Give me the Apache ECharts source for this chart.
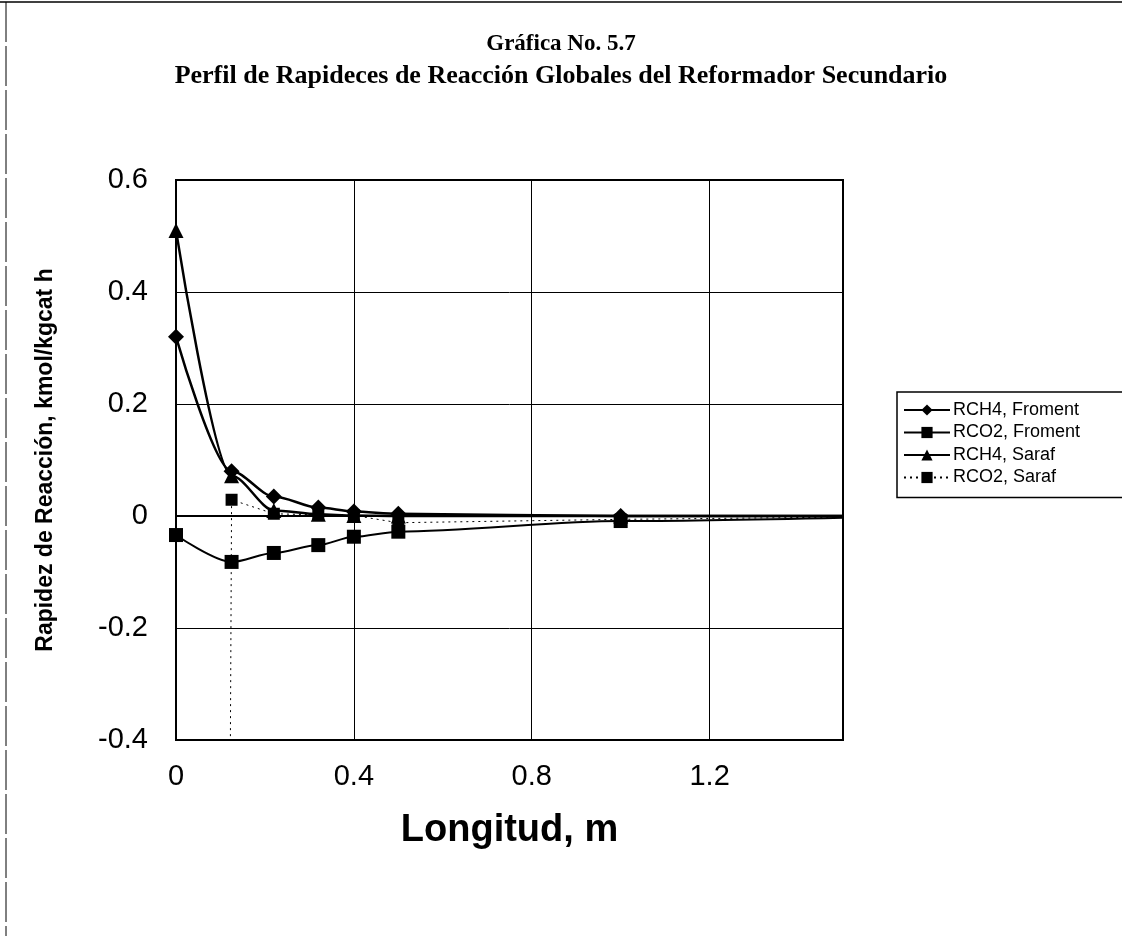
<!DOCTYPE html>
<html>
<head>
<meta charset="utf-8">
<script src="https://cdn.jsdelivr.net/npm/echarts@6/dist/echarts.min.js"></script>
<style>
  html, body { margin: 0; padding: 0; background: #fff; }
  #chart { width: 1122px; height: 936px; }
</style>
</head>
<body>
<div id="chart"></div>
<script>
// Longitud del reactor (m)
const longitud = [0, 0.125, 0.22, 0.32, 0.4, 0.5, 1.0, 1.5];

// Rapideces de reacción (kmol/kgcat h)
const rch4Froment = [0.32, 0.08, 0.035, 0.015, 0.008, 0.004, 0.0, 0.0];
const rco2Froment = [-0.034, -0.082, -0.066, -0.052, -0.037, -0.028, -0.009, -0.003];
const rch4Saraf   = [0.51, 0.072, 0.01, 0.003, 0.001, 0.0, 0.0, 0.0];
const rco2Saraf   = [-20, 0.029, 0.004, 0.002, 0.001, -0.012, -0.006, -0.002];

const seriesNames = ['RCH4, Froment', 'RCO2, Froment', 'RCH4, Saraf', 'RCO2, Saraf'];
const yTicks = [-0.4, -0.2, 0, 0.2, 0.4, 0.6];
const xTicks = [0, 0.4, 0.8, 1.2];

// The last point (x = 1.5) only carries the line to the plot edge, without a marker
function pairs(ys) {
  return longitud.map((x, i) => {
    const p = { value: [x, ys[i]] };
    if (x === 1.5) p.symbol = 'none';
    return p;
  });
}

const chart = echarts.init(document.getElementById('chart'));

const black = '#000';
const option = {
  backgroundColor: '#fff',
  animation: false,
  title: {
    text: 'Gráfica No. 5.7',
    subtext: 'Perfil de Rapideces de Reacción Globales del Reformador Secundario',
    left: 'center',
    top: 28,
    itemGap: 7,
    textStyle: { fontFamily: 'Liberation Serif', fontWeight: 'bold', fontSize: 23, color: black },
    subtextStyle: { fontFamily: 'Liberation Serif', fontWeight: 'bold', fontSize: 26, color: black }
  },
  legend: {
    orient: 'vertical',
    left: 897,
    top: 392,
    data: seriesNames,
    itemWidth: 46,
    itemHeight: 14,
    itemGap: 4.5,
    padding: [9, 60, 11, 6],
    borderColor: black,
    borderWidth: 1.5,
    borderRadius: 0,
    textStyle: { fontFamily: 'Liberation Sans', fontSize: 18, color: black, padding: [0, 0, 0, -2] }
  },
  grid: { left: 176, top: 180, right: 279, bottom: 196, show: true, borderColor: black, borderWidth: 2 },
  xAxis: {
    type: 'value',
    min: 0,
    max: 1.5,
    interval: 0.4,
    name: 'Longitud, m',
    nameLocation: 'middle',
    nameGap: 72,
    nameTextStyle: { fontFamily: 'Liberation Sans', fontWeight: 'bold', fontSize: 38, color: black },
    axisLine: { show: true, lineStyle: { color: black, width: 2 } },
    axisTick: { show: false },
    axisLabel: {
      showMaxLabel: false,
      margin: 22,
      fontFamily: 'Liberation Sans',
      fontSize: 29,
      color: black,
      formatter: v => (xTicks.some(t => Math.abs(t - v) < 1e-9) ? String(+v.toFixed(1)) : '')
    },
    splitLine: { show: true, lineStyle: { color: black, width: 1 } }
  },
  yAxis: {
    type: 'value',
    min: -0.4,
    max: 0.6,
    interval: 0.2,
    name: 'Rapidez de Reacción, kmol/kgcat h',
    nameLocation: 'middle',
    nameGap: 119,
    nameTextStyle: { fontFamily: 'Liberation Sans', fontWeight: 'bold', fontSize: 23, color: black },
    axisLine: { show: true, lineStyle: { color: black, width: 2 } },
    axisTick: { show: false },
    axisLabel: {
      margin: 28,
      fontFamily: 'Liberation Sans',
      fontSize: 29,
      color: black,
      formatter: v => {
        const t = yTicks.find(y => Math.abs(y - v) < 1e-9);
        return t === undefined ? '' : String(t);
      }
    },
    splitLine: { show: true, lineStyle: { color: black, width: 1 } }
  },
  series: [
    {
      name: seriesNames[0], type: 'line', data: pairs(rch4Froment),
      smooth: 0.3, smoothMonotone: 'x',
      symbol: 'diamond', symbolSize: 16,
      lineStyle: { color: black, width: 2.5 }, itemStyle: { color: black }, z: 4
    },
    {
      name: seriesNames[1], type: 'line', data: pairs(rco2Froment),
      smooth: 0.3, smoothMonotone: 'x',
      symbol: 'rect', symbolSize: 14,
      lineStyle: { color: black, width: 2 }, itemStyle: { color: black }, z: 3
    },
    {
      name: seriesNames[2], type: 'line', data: pairs(rch4Saraf),
      smooth: 0.3, smoothMonotone: 'x',
      symbol: 'triangle', symbolSize: 15,
      lineStyle: { color: black, width: 2.5 }, itemStyle: { color: black }, z: 5
    },
    {
      name: seriesNames[3], type: 'line', data: pairs(rco2Saraf),
      smooth: false,
      symbol: 'rect', symbolSize: 12,
      lineStyle: { color: black, width: 1, type: [2, 4] }, itemStyle: { color: black }, z: 2
    }
  ],
  graphic: [
    { type: 'line', shape: { x1: 0, y1: 2, x2: 1122, y2: 2 }, style: { stroke: black, lineWidth: 1.5 } },
    { type: 'line', shape: { x1: 6, y1: 2, x2: 6, y2: 936 }, style: { stroke: black, lineWidth: 1, lineDash: [40, 4] } }
  ]
};

chart.setOption(option);
</script>
</body>
</html>
